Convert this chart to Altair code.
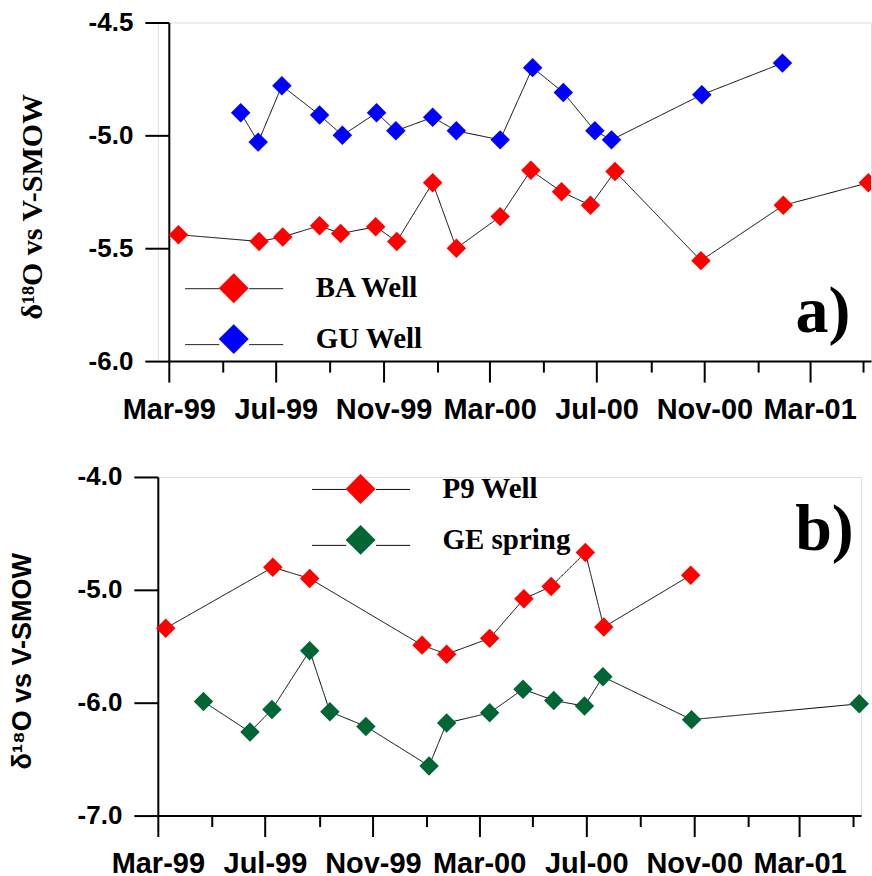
import altair as alt
import pandas as pd

# ---------------- data: panel a ----------------
ba_dates = ["1999-03-12", "1999-06-12", "1999-07-09", "1999-08-20", "1999-09-13",
            "1999-10-23", "1999-11-16", "1999-12-27", "2000-01-23", "2000-03-13",
            "2000-04-17", "2000-05-22", "2000-06-24", "2000-07-22", "2000-10-28",
            "2001-01-30", "2001-05-07"]
ba_values = [-5.44, -5.47, -5.45, -5.40, -5.435, -5.405, -5.47, -5.21, -5.50, -5.36,
             -5.155, -5.25, -5.31, -5.16, -5.555, -5.31, -5.21]
gu_dates = ["1999-05-22", "1999-06-11", "1999-07-08", "1999-08-20", "1999-09-15",
            "1999-10-24", "1999-11-15", "1999-12-27", "2000-01-23", "2000-03-13",
            "2000-04-19", "2000-05-24", "2000-06-29", "2000-07-18", "2000-10-29",
            "2001-01-29"]
gu_values = [-4.90, -5.03, -4.78, -4.91, -5.00, -4.90, -4.98, -4.92, -4.98, -5.02,
             -4.70, -4.81, -4.98, -5.02, -4.82, -4.68]

# ---------------- data: panel b ----------------
p9_dates = ["1999-03-10", "1999-07-10", "1999-08-21", "1999-12-27", "2000-01-24",
            "2000-03-13", "2000-04-21", "2000-05-22", "2000-06-30", "2000-07-21",
            "2000-10-28"]
p9_values = [-5.34, -4.80, -4.90, -5.49, -5.57, -5.43, -5.08, -4.97, -4.67, -5.33, -4.87]
ge_dates = ["1999-04-22", "1999-06-14", "1999-07-09", "1999-08-21", "1999-09-13",
            "1999-10-24", "2000-01-04", "2000-01-24", "2000-03-13", "2000-04-20",
            "2000-05-25", "2000-06-29", "2000-07-20", "2000-10-29", "2001-05-08"]
ge_values = [-5.99, -6.26, -6.06, -5.54, -6.08, -6.21, -6.56, -6.18, -6.09, -5.88,
             -5.98, -6.03, -5.77, -6.15, -6.01]

series_a = ["BA Well", "GU Well"]
colors_a = ["#ff0000", "#0000ff"]
series_b = ["P9 Well", "GE spring"]
colors_b = ["#ff0000", "#006633"]

yticks_a = [-6.0, -5.5, -5.0, -4.5]
yticks_b = [-7.0, -6.0, -5.0, -4.0]
ytitle = "δ¹⁸O vs V-SMOW"


def frame(d1, v1, d2, v2, names):
    df = pd.DataFrame({
        "date": d1 + d2,
        "value": v1 + v2,
        "series": [names[0]] * len(d1) + [names[1]] * len(d2),
    })
    df["line_series"] = df["series"]
    return df


df_a = frame(ba_dates, ba_values, gu_dates, gu_values, series_a)
df_b = frame(p9_dates, p9_values, ge_dates, ge_values, series_b)

H = 339
x_domain = [alt.DateTime(year=1999, month=3, date=1, utc=True),
            alt.DateTime(year=2001, month=5, date=10, utc=True)]

MAJOR = "utcmonth(datum.value) % 4 == 2"


def x_enc(x_range):
    return alt.X(
        "date:T",
        scale=alt.Scale(type="utc", domain=x_domain, nice=False, range=x_range),
        axis=alt.Axis(
            title=None, grid=False,
            tickCount=alt.TimeIntervalStep(interval="month", step=2),
            labelExpr=f"{MAJOR} ? utcFormat(datum.value, '%b-%y') : ''",
            tickSize={"expr": f"{MAJOR} ? 21 : 11"},
            tickWidth=2, tickColor="black",
            domainColor="black", domainWidth=2,
            labelFont="Liberation Sans", labelFontSize=29, labelFontWeight="bold",
            labelColor="black", labelPadding=13, labelFlush=False,
            labelOverlap=False, labelBound=False,
        ),
    )


def y_enc(domain, ticks, title, tfont, tsize, tx, ty, yoff):
    return alt.Y(
        "value:Q",
        scale=alt.Scale(domain=domain, nice=False, zero=False),
        axis=alt.Axis(
            values=ticks, grid=False, offset=yoff,
            labelExpr="'-' + format(abs(datum.value), '.1f')",
            tickSize=24, tickWidth=2, tickColor="black",
            domainColor="black", domainWidth=2,
            labelFont="Liberation Sans", labelFontSize=26, labelFontWeight="bold",
            labelColor="black", labelPadding=12,
            title=title, titleFont=tfont, titleFontSize=tsize, titleFontWeight="bold",
            titleColor="black", titleAngle=270, titleX=tx, titleY=ty,
            titleBaseline="bottom",
        ),
    )


LINE_SYMBOL = "M-3.27,0H-1M1,0H3.27M0,-1M0,1"


def panel(df, names, colors, width, x_range, yoff, ydomain, yticks, tfont, tsize,
          tx, ty, lx, ly, tag, tag_date, tag_value, clip):
    x = x_enc(x_range)
    y = y_enc(ydomain, yticks, ytitle, tfont, tsize, tx, ty, yoff)
    common_leg = dict(
        orient="none", legendX=lx, legendY=ly, title=None, padding=0,
        symbolSize=900, labelFont="Liberation Serif", labelFontSize=29,
        labelFontWeight="bold", labelColor="black", labelOffset=67,
        rowPadding=21,
    )
    lines = alt.Chart(df).mark_line(color="black", strokeWidth=1).encode(
        x=x, y=y,
        strokeDash=alt.StrokeDash(
            "line_series:N",
            scale=alt.Scale(range=[[1, 0], [1, 0]]),
            legend=alt.Legend(symbolType=LINE_SYMBOL, symbolStrokeColor="black",
                              symbolStrokeWidth=1, symbolFillColor="transparent",
                              labelExpr="''", **common_leg),
        ),
    )
    points = alt.Chart(df).mark_point(
        shape="diamond", filled=True, size=380, opacity=1, clip=clip
    ).encode(
        x=x, y=y,
        color=alt.Color(
            "series:N",
            scale=alt.Scale(domain=names, range=colors),
            legend=alt.Legend(symbolType="diamond", symbolStrokeWidth=0,
                              symbolOpacity=1, **common_leg),
        ),
    )
    label = alt.Chart(pd.DataFrame({"tag": [tag]})).mark_text(
        font="Liberation Serif", fontSize=66, fontWeight="bold",
        align="left", baseline="alphabetic", color="black",
    ).encode(
        x=alt.datum(tag_date),
        y=alt.datum(tag_value),
        text="tag:N",
    )
    return alt.layer(lines, points, label).properties(width=width, height=H)


# panel a: its plot frame starts 11 px right of panel b's
top = panel(df_a, series_a, colors_a, 714, [11, 714], -11, [-6.0, -4.5], yticks_a,
            "Liberation Serif", 30, -121, 184,
            61, 251, "a)",
            alt.DateTime(year=2001, month=2, date=13, utc=True), -5.872, True)

bottom = panel(df_b, series_b, colors_b, 704, [0, 704], 0, [-7.0, -4.0], yticks_b,
               "Liberation Sans", 27, -121, 184,
               188, -3, "b)",
               alt.DateTime(year=2001, month=2, date=24, utc=True), -4.644, False)

chart = alt.concat(top, bottom, columns=1, spacing=38).resolve_scale(
    color="independent", strokeDash="independent"
).resolve_legend(
    color="independent", strokeDash="independent"
).properties(
    padding={"left": 8, "top": 8, "right": 0, "bottom": 0}
).configure_view(stroke=None).configure(background="white")

chart.save("out.html", embed_options={"renderer": "svg", "actions": False})
